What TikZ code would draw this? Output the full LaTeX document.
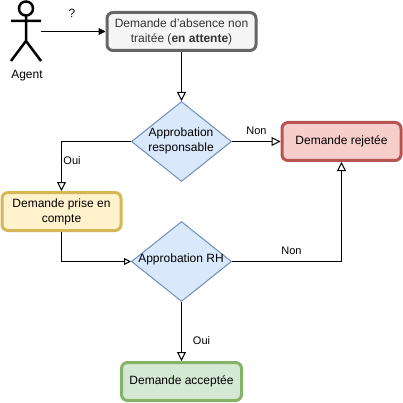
\documentclass[tikz,border=0pt]{standalone}
\usepackage{fontspec}
\setmainfont[Ligatures=NoCommon]{Liberation Sans}
\usetikzlibrary{shapes.geometric,arrows.meta}
\definecolor{grayF}{HTML}{F5F5F5}\definecolor{grayD}{HTML}{666666}\definecolor{grayT}{HTML}{333333}
\definecolor{yelF}{HTML}{FFF2CC}\definecolor{yelD}{HTML}{D6B656}
\definecolor{redF}{HTML}{F8CECC}\definecolor{redD}{HTML}{B85450}
\definecolor{greF}{HTML}{D5E8D4}\definecolor{greD}{HTML}{82B366}
\definecolor{bluF}{HTML}{DAE8FC}\definecolor{bluD}{HTML}{6C8EBF}
\tikzset{
 x=1pt,y=-1pt,
 txt/.style={font=\fontsize{12}{15}\selectfont,align=center,text=black,inner sep=0pt},
 statebox/.style={txt,rectangle,rounded corners=6pt,line width=3pt,minimum width=118pt,minimum height=38pt},
 decision/.style={txt,diamond,aspect=1.25,draw=bluD,fill=bluF,line width=1pt,minimum width=100pt,minimum height=80pt,inner sep=0pt},
 conn/.style={line width=1pt,-{Triangle[length=9pt,width=9pt,fill=white]}},
 connsmall/.style={line width=1pt,-{Triangle[length=7pt,width=7pt,fill=white]}},
 lab/.style={font=\fontsize{11}{13}\selectfont,text=black,inner sep=0pt},
}
\begin{document}
\begin{tikzpicture}
\useasboundingbox (0,0) rectangle (403,403);
% actor
\node[minimum width=30pt,minimum height=60pt,inner sep=0pt] (agent) at (26,31) {};
\draw[line width=2.5pt] (26,8.5) circle[radius=7];
\draw[line width=2.5pt] (26,15.5) -- (26,41) (11,21) -- (41,21) (11,61) -- (26,41) -- (41,61);
\node[txt] (agenttxt) at (27,75.5) {Agent};
% boxes
\node[statebox,draw=grayD,fill=grayF,minimum width=149pt,text=grayT] (req) at (181.5,31.5) {Demande d\symbol{39}absence non\\traitée (\textbf{en attente})};
\node[decision] (d1) at (181.5,141.5) {};
\node[txt] (d1t) at (181,141) {Approbation\\responsable};
\node[statebox,draw=redD,fill=redF,minimum width=119pt] (rej) at (341.5,141.5) {Demande rejetée};
\node[statebox,draw=yelD,fill=yelF,minimum width=119pt] (tak) at (61.5,211.5) {Demande prise en\\compte};
\node[decision] (d2) at (181.5,261.5) {};
\node[txt] (d2t) at (181,259.5) {Approbation RH};
\node[statebox,draw=greD,fill=greF,minimum width=120pt] (acc) at (181.5,381.5) {Demande acceptée};
% connectors
\draw[line width=1pt,-{Triangle[length=7pt,width=7pt]}] (agent.east |- req.west) -- (req.west);
\node[txt] (q) at (72,13.5) {?};
\draw[conn] (req.south) -- (d1.north);
\draw[conn] (d1.east) -- (rej.west);
\node[lab] (non1) at (256.5,131) {Non};
\draw[conn] (d1.west) -| (tak.north);
\node[lab] (oui1) at (72,161) {Oui};
\draw[connsmall] (tak.south) |- (d2.west);
\draw[conn] (d2.east) -| (rej.south);
\node[lab] (non2) at (291.5,251) {Non};
\draw[conn] (d2.south) -- (acc.north);
\node[lab] (oui2) at (201.5,341) {Oui};
\end{tikzpicture}
\end{document}
